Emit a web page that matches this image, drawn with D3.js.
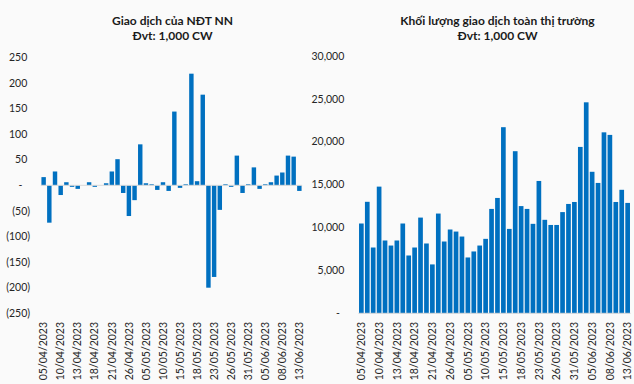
<!DOCTYPE html>
<html lang="vi">
<head>
    <meta charset="UTF-8">
    <title>Giao dịch CW</title>
    <script src="https://d3js.org/d3.v7.min.js"></script>
    <style>
        body {
            margin: 0;
            background-color: #fafafa;
        }
        svg text {
            font-family: Lato, "Open Sans", sans-serif;
        }
        .title {
            font-size: 12px;
            font-weight: bold;
            fill: #1a1a1a;
        }
        .tick-label {
            font-size: 10.5px;
            fill: #262626;
        }
    </style>
</head>
<body>
    <div id="chart"></div>

    <script>
        const width = 634, height = 384;

        // trading days shown on both charts
        const dates = [
            "05/04/2023", "06/04/2023", "07/04/2023", "10/04/2023", "11/04/2023", "12/04/2023",
            "13/04/2023", "14/04/2023", "17/04/2023", "18/04/2023", "19/04/2023", "20/04/2023",
            "21/04/2023", "24/04/2023", "25/04/2023", "26/04/2023", "27/04/2023", "28/04/2023",
            "05/05/2023", "08/05/2023", "09/05/2023", "10/05/2023", "11/05/2023", "12/05/2023",
            "15/05/2023", "16/05/2023", "17/05/2023", "18/05/2023", "19/05/2023", "22/05/2023",
            "23/05/2023", "24/05/2023", "25/05/2023", "26/05/2023", "29/05/2023", "30/05/2023",
            "31/05/2023", "01/06/2023", "02/06/2023", "05/06/2023", "06/06/2023", "07/06/2023",
            "08/06/2023", "09/06/2023", "12/06/2023", "13/06/2023"
        ];

        // Giao dịch của NĐT NN (1,000 CW)
        const foreignNet = [
            16, -73, 27, -19, 6, -3, -7, 0, 6, -3, 0, 4, 27, 51, -15, -60, -29, 80, 4, 2, -9, 6, -11,
            144, -5, 2, 218, 8, 177, -200, -179, -48, 2, -3, 58, -15, 2, 35, -7, 2, 6, 19, 25, 58, 56, -11
        ];

        // Khối lượng giao dịch toàn thị trường (1,000 CW)
        const marketVolume = [
            10470, 13000, 7670, 14770, 8490, 7900, 8490, 10470, 6740, 7670, 11160, 8140, 5700, 11630,
            8370, 9770, 9530, 8950, 6510, 7210, 7900, 8680, 12170, 13450, 21700, 9840, 18900, 12500,
            12170, 10430, 15430, 10900, 10300, 10300, 11800, 12750, 12980, 19400, 24600, 16500, 15200,
            21100, 20800, 12980, 14400, 12870
        ];

        const leftTicks = [250, 200, 150, 100, 50, 0, -50, -100, -150, -200, -250];
        const rightTicks = [30000, 25000, 20000, 15000, 10000, 5000, 0];
        const dateLabels = dates.filter((d, i) => i % 3 === 0);

        const barColor = "#0070c0";
        const lineColor = "#d9d9d9";

        const svg = d3.select("#chart")
            .append("svg")
            .attr("width", width)
            .attr("height", height);

        // number formats like Excel accounting style
        const fmtComma = d3.format(",");
        const fmtLeft = v => v === 0 ? "-" : (v < 0 ? "(" + Math.abs(v) + ")" : String(v));
        const fmtRight = v => v === 0 ? "-" : fmtComma(v);

        function drawChart(opts) {
            const g = svg.append("g");

            const x = d3.scaleBand()
                .domain(dates)
                .range(opts.xRange)
                .paddingInner(opts.pad)
                .paddingOuter(opts.pad / 2);

            const y = d3.scaleLinear()
                .domain(opts.yDomain)
                .range([313.3, opts.yTop]);

            // titles
            const cx = opts.titleX;
            g.append("text").attr("class", "title")
                .attr("x", cx).attr("y", 25)
                .attr("text-anchor", "middle")
                .text(opts.title);
            g.append("text").attr("class", "title")
                .attr("x", cx).attr("y", 39.5)
                .attr("text-anchor", "middle")
                .text("Đvt: 1,000 CW");

            // y tick labels
            g.selectAll(".ytick")
                .data(opts.ticks)
                .join("text")
                .attr("class", "tick-label")
                .attr("x", d => d === 0 ? opts.zeroX : (d < 0 ? opts.labelX + opts.negShift : opts.labelX))
                .attr("y", d => y(d))
                .attr("dy", "0.35em")
                .attr("text-anchor", d => d === 0 ? "middle" : "end")
                .text(opts.fmt);

            // bars
            g.selectAll(".bar")
                .data(opts.values)
                .join("rect")
                .attr("fill", barColor)
                .attr("x", (d, i) => x(dates[i]))
                .attr("width", x.bandwidth())
                .attr("y", d => y(Math.max(0, d)))
                .attr("height", d => Math.abs(y(d) - y(0)));

            // zero line
            g.append("line")
                .attr("x1", opts.xRange[0]).attr("x2", opts.xRange[1])
                .attr("y1", y(0)).attr("y2", y(0))
                .attr("stroke", lineColor)
                .attr("stroke-width", 1);

            // x labels (every third day)
            g.selectAll(".xlabel")
                .data(dateLabels)
                .join("text")
                .attr("class", "tick-label")
                .attr("text-anchor", "end")
                .attr("transform", d => `translate(${x(d) + x.bandwidth() / 2},322) rotate(-90)`)
                .attr("dy", "0.35em")
                .text(d => d);
        }

        drawChart({
            title: "Giao dịch của NĐT NN",
            titleX: 172.5,
            values: foreignNet,
            xRange: [40.8, 302.2],
            pad: 0.22,
            yDomain: [-250, 250],
            yTop: 57.3,
            ticks: leftTicks,
            fmt: fmtLeft,
            labelX: 27.3,
            negShift: 2.8,
            zeroX: 20.5
        });

        drawChart({
            title: "Khối lượng giao dịch toàn thị trường",
            titleX: 497.5,
            values: marketVolume,
            xRange: [358.4, 630.6],
            pad: 0.21,
            yDomain: [0, 30000],
            yTop: 56,
            ticks: rightTicks,
            fmt: fmtRight,
            labelX: 344.3,
            negShift: 0,
            zeroX: 338
        });
    </script>
</body>
</html>
